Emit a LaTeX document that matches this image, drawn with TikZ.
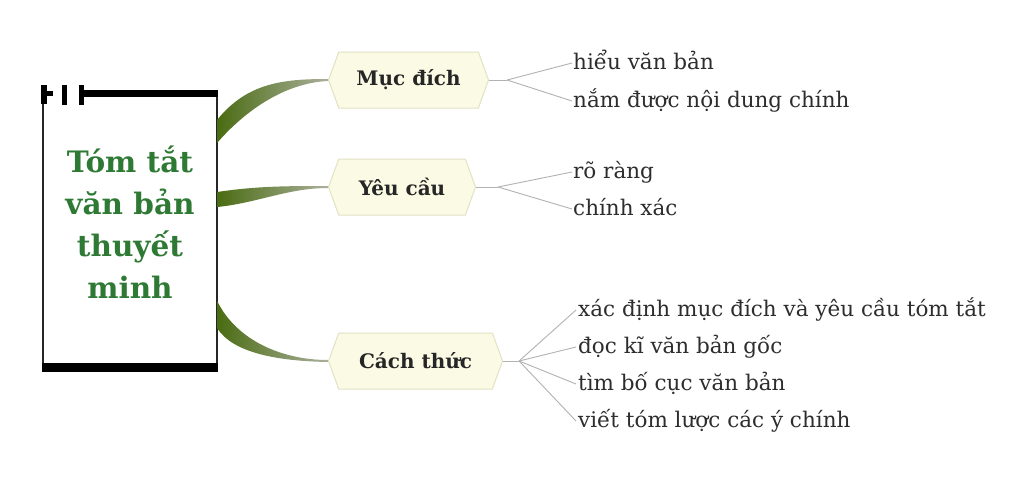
\documentclass[tikz,border=0pt]{standalone}
\usepackage{fontspec}
\setmainfont{DejaVu Serif}
\usetikzlibrary{shapes.symbols,calc}
\definecolor{titlegreen}{RGB}{46,122,52}
\definecolor{conngreen}{RGB}{74,108,18}
\definecolor{connend}{RGB}{170,176,155}
\definecolor{hexfill}{RGB}{251,251,229}
\definecolor{hexline}{RGB}{226,226,196}
\definecolor{leafgray}{RGB}{178,178,178}
\definecolor{leaftext}{RGB}{45,45,45}
\begin{document}
\begin{tikzpicture}[x=1pt,y=-1pt,
  hexnode/.style={signal, signal to=west and east, signal pointer angle=140,
    fill=hexfill, draw=hexline, line width=1pt, minimum height=56pt,
    font=\fontsize{20}{24}\selectfont\bfseries, text=black!85,
    anchor=west, inner sep=0pt},
  leaf/.style={anchor=base west, inner sep=0pt,
    font=\fontsize{21.5}{25}\selectfont, text=leaftext},
  leafline/.style={draw=leafgray, line width=0.9pt},
  titleline/.style={anchor=base, inner sep=0pt,
    font=\fontsize{29.5}{42}\selectfont\bfseries, text=titlegreen},
  tapered/.style={left color=conngreen, right color=connend},
]
\useasboundingbox (0,0) rectangle (1024,488);
\fill[white] (0,0) rectangle (1024,488);

% main box
\node[minimum width=174pt, minimum height=274pt, inner sep=0pt] (box) at (130,230) {};
\draw[line width=2.4pt, black!85] (box.north west) -- (box.south west);
\draw[line width=2.4pt, black!85] (box.north east) -- (box.south east);
\draw[line width=7pt] ($(box.north west)+(41,0.5)$) -- ($(box.north east)+(1,0.5)$);
\draw[line width=9pt] ($(box.south west)+(-1,0)$) -- ($(box.south east)+(1,0)$);
\fill (41,85) rectangle (47,104);
\fill (47,91) rectangle (53,96);
\fill (62,85) rectangle (67,105);
\fill (79,85) rectangle (84,105);

\node[titleline] (t1) at (130,172) {Tóm tắt};
\node[titleline] (t2) at (130,214) {văn bản};
\node[titleline] (t3) at (130,256) {thuyết};
\node[titleline] (t4) at (130,298) {minh};

% hexagons
\node[hexnode, minimum width=160pt] (h1) at (328,80) {Mục đích};
\node[hexnode, minimum width=147pt] (h2) at (328,187) {Yêu cầu};
\node[hexnode, minimum width=174pt] (h3) at (328,361) {Cách thức};

% tapered connectors
\shade[tapered] ($(box.north east)+(0,27)$) .. controls +(30,-37) and +(-45,0) .. ($(h1.west)+(0,-1)$)
  -- ($(h1.west)+(0,1)$) .. controls +(-45,2) and +(26,-30) .. ($(box.north east)+(0,50)$) -- cycle;
\shade[tapered] ($(box.east)+(0,-38)$) .. controls +(40,-6) and +(-40,0) .. ($(h2.west)+(0,-1)$)
  -- ($(h2.west)+(0,1)$) .. controls +(-40,0) and +(40,-4) .. ($(box.east)+(0,-23)$) -- cycle;
\shade[tapered] ($(box.south east)+(0,-66)$) .. controls +(20,40) and +(-45,0) .. ($(h3.west)+(0,-1)$)
  -- ($(h3.west)+(0,1)$) .. controls +(-50,-1) and +(16,25) .. ($(box.south east)+(0,-39)$) -- cycle;

% leaves
\node[leaf] (l11) at (573,69) {hiểu văn bản};
\node[leaf] (l12) at (573,107) {nắm được nội dung chính};
\node[leaf] (l21) at (573,178) {rõ ràng};
\node[leaf] (l22) at (573,215) {chính xác};
\node[leaf] (l31) at (578,316) {xác định mục đích và yêu cầu tóm tắt};
\node[leaf] (l32) at (578,353) {đọc kĩ văn bản gốc};
\node[leaf] (l33) at (578,390) {tìm bố cục văn bản};
\node[leaf] (l34) at (578,427) {viết tóm lược các ý chính};

\coordinate (b1) at ($(h1.east)+(18,0)$);
\coordinate (b2) at ($(h2.east)+(22,0)$);
\coordinate (b3) at ($(h3.east)+(16,0)$);
\draw[leafline] (h1.east) -- (b1);
\draw[leafline] (h2.east) -- (b2);
\draw[leafline] (h3.east) -- (b3);
\foreach \l in {l11,l12} \draw[leafline] (b1) -- ($(\l.base west)+(-1,-6)$);
\foreach \l in {l21,l22} \draw[leafline] (b2) -- ($(\l.base west)+(-1,-6)$);
\foreach \l in {l31,l32,l33,l34} \draw[leafline] (b3) -- ($(\l.base west)+(-2,-6)$);
\end{tikzpicture}
\end{document}
